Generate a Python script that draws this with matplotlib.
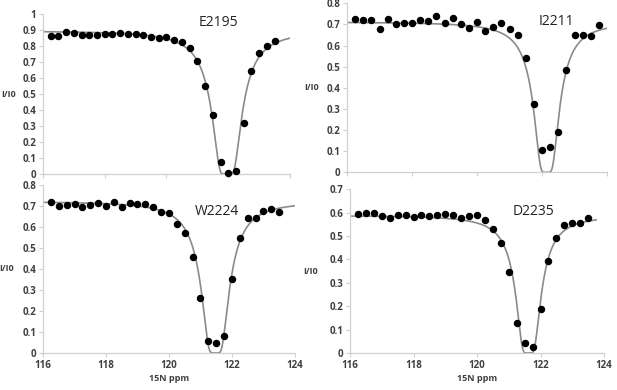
import matplotlib
matplotlib.use("Agg")
import matplotlib.pyplot as plt
import numpy as np
from matplotlib.ticker import FuncFormatter, MultipleLocator

plt.rcParams["font.family"] = ["Open Sans", "DejaVu Sans"]

# saturation offsets (15N ppm), one point every 0.25 ppm
offsets = [116.25, 116.5, 116.75, 117.0, 117.25, 117.5, 117.75, 118.0,
           118.25, 118.5, 118.75, 119.0, 119.25, 119.5, 119.75, 120.0,
           120.25, 120.5, 120.75, 121.0, 121.25, 121.5, 121.75, 122.0,
           122.25, 122.5, 122.75, 123.0, 123.25, 123.5, 123.75]

# measured I/I0 per residue
e2195 = [0.865, 0.862, 0.89, 0.879, 0.871, 0.871, 0.871, 0.877, 0.877, 0.879,
         0.877, 0.877, 0.871, 0.858, 0.848, 0.858, 0.835, 0.823, 0.79, 0.704,
         0.55, 0.367, 0.077, 0.004, 0.019, 0.317, 0.644, 0.754, 0.80, 0.831]
i2211 = [0.727, 0.719, 0.719, 0.678, 0.728, 0.703, 0.708, 0.709, 0.722, 0.716,
         0.738, 0.708, 0.73, 0.701, 0.682, 0.712, 0.67, 0.69, 0.706, 0.678,
         0.652, 0.542, 0.321, 0.107, 0.122, 0.191, 0.485, 0.649, 0.652, 0.646,
         0.697]
w2224 = [0.717, 0.70, 0.706, 0.711, 0.695, 0.703, 0.716, 0.70, 0.717, 0.695,
         0.716, 0.711, 0.71, 0.697, 0.673, 0.665, 0.616, 0.57, 0.456, 0.26,
         0.059, 0.049, 0.083, 0.351, 0.546, 0.641, 0.641, 0.676, 0.684, 0.67]
d2235 = [0.593, 0.60, 0.597, 0.587, 0.578, 0.591, 0.59, 0.583, 0.588, 0.584,
         0.591, 0.594, 0.588, 0.577, 0.585, 0.588, 0.568, 0.531, 0.47, 0.348,
         0.127, 0.041, 0.027, 0.188, 0.393, 0.49, 0.548, 0.557, 0.557, 0.578]

# fitted profile parameters: I0, centre, C, w, end of line
fit_e2195 = (0.895, 121.96, 0.22, 0.10, 124.0)
fit_i2211 = (0.712, 122.14, 0.15, 0.11, 124.0)
fit_w2224 = (0.722, 121.47, 0.19, 0.12, 124.0)
fit_d2235 = (0.588, 121.62, 0.15, 0.10, 123.75)

residues = ["E2195", "I2211", "W2224", "D2235"]
label_pos = [(121.69, 0.946), (122.43, 0.714), (121.53, 0.676), (121.79, 0.604)]
y_tops = [1.0, 0.8, 0.8, 0.7]
ylabel_x = [-0.14, -0.135, -0.143, -0.155]

SPINE = "#d0d0d0"
TEXT = "#404040"


def fit_curve(params):
    i0, x0, c, w, x_end = params
    x = np.linspace(116.0, x_end, 600)
    return x, i0 * np.exp(-c / (w ** 2 + (x - x0) ** 2))


def tick_text(v, pos):
    if v == 0:
        return "0"
    return f"{v:.1f}".rstrip("0").rstrip(".")


def style_axes(ax, y_top, show_x_labels):
    ax.set_xlim(116, 124)
    ax.set_ylim(0, y_top)
    ax.xaxis.set_major_locator(MultipleLocator(2))
    ax.yaxis.set_major_locator(MultipleLocator(0.1))
    ax.yaxis.set_major_formatter(FuncFormatter(tick_text))
    for side in ("top", "right"):
        ax.spines[side].set_visible(False)
    for side in ("left", "bottom"):
        ax.spines[side].set_color(SPINE)
        ax.spines[side].set_linewidth(0.9)
    ax.tick_params(colors=SPINE, labelcolor=TEXT, length=3, width=0.8,
                   labelsize=7, pad=2)
    for lab in ax.get_xticklabels() + ax.get_yticklabels():
        lab.set_fontweight("bold")
    # the top panels' x labels sit under the lower panels in the figure
    ax.tick_params(axis="x", labelbottom=show_x_labels)
    ax.set_facecolor("none")


def draw_panel(ax, y, fit, name, pos, y_top, show_x_labels):
    xf, yf = fit_curve(fit)
    ax.plot(xf, yf, color="#8a8a8a", lw=1.2, zorder=2)
    ax.scatter(offsets[:len(y)], y, s=19, color="black", zorder=3, clip_on=False)
    ax.text(pos[0], pos[1], name, fontsize=10, color="#222222",
            ha="center", va="center")
    style_axes(ax, y_top, show_x_labels)


fig = plt.figure(figsize=(6.17, 3.9), dpi=100)

ax_tl = fig.add_axes([0.0697, 0.5538, 0.4003, 0.4103])
ax_tr = fig.add_axes([0.5624, 0.5582, 0.4214, 0.4333])
ax_bl = fig.add_axes([0.0697, 0.0949, 0.4084, 0.4308])
ax_br = fig.add_axes([0.5673, 0.0949, 0.4117, 0.4200])

series = [e2195, i2211, w2224, d2235]
fits = [fit_e2195, fit_i2211, fit_w2224, fit_d2235]
axes = [ax_tl, ax_tr, ax_bl, ax_br]
show_x = [False, False, True, True]

for ax, y, fit, name, pos, top, sx in zip(axes, series, fits, residues,
                                           label_pos, y_tops, show_x):
    draw_panel(ax, y, fit, name, pos, top, sx)

# axis titles
for ax, lx in zip(axes, ylabel_x):
    ax.text(lx, 0.5, "I/I0", transform=ax.transAxes, fontsize=6.5,
            fontweight="bold", color=TEXT, ha="center", va="center")
for ax in (ax_bl, ax_br):
    ax.set_xlabel("15N ppm", fontsize=6.5, fontweight="bold", color=TEXT,
                  labelpad=2)

fig.savefig("out.png", dpi=100, facecolor="white")
